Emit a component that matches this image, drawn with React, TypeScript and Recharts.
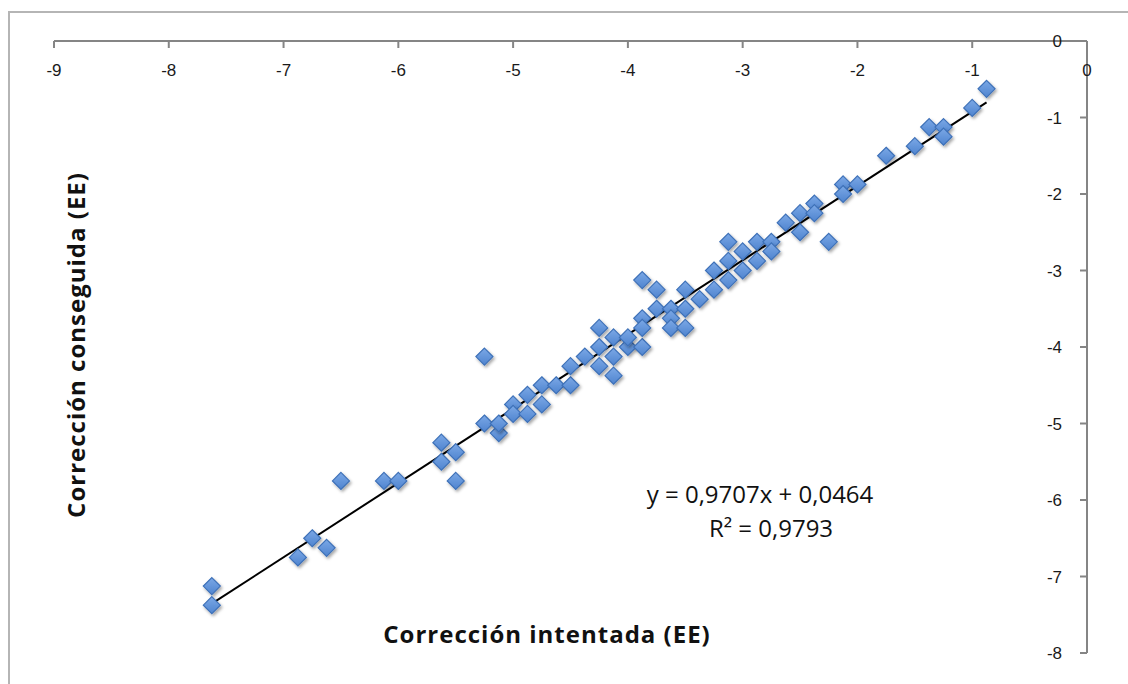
import { ScatterChart, Scatter, XAxis, YAxis, ReferenceLine, Customized } from 'recharts'

// Corrección intentada vs conseguida, en equivalente esférico (EE)
const xIntended = [
  -7.625, -7.625, -6.875, -6.75, -6.625, -6.5, -6.125, -6.0, -5.625, -5.625,
  -5.5, -5.5, -5.25, -5.25, -5.125, -5.125, -5.0, -5.0, -4.875, -4.875,
  -4.75, -4.75, -4.625, -4.5, -4.5, -4.375, -4.25, -4.25, -4.25, -4.125,
  -4.125, -4.125, -4.0, -4.0, -3.875, -3.875, -3.875, -3.875, -3.75, -3.75,
  -3.625, -3.625, -3.625, -3.5, -3.5, -3.5, -3.375, -3.25, -3.25, -3.125,
  -3.125, -3.125, -3.0, -3.0, -2.875, -2.875, -2.75, -2.75, -2.625, -2.5,
  -2.5, -2.375, -2.375, -2.25, -2.125, -2.125, -2.0, -1.75, -1.5, -1.375,
  -1.25, -1.25, -1.0, -0.875,
]
const yAchieved = [
  -7.125, -7.375, -6.75, -6.5, -6.625, -5.75, -5.75, -5.75, -5.25, -5.5,
  -5.375, -5.75, -4.125, -5.0, -5.125, -5.0, -4.75, -4.875, -4.625, -4.875,
  -4.5, -4.75, -4.5, -4.5, -4.25, -4.125, -3.75, -4.0, -4.25, -3.875,
  -4.125, -4.375, -4.0, -3.875, -3.125, -3.625, -4.0, -3.75, -3.25, -3.5,
  -3.5, -3.625, -3.75, -3.25, -3.5, -3.75, -3.375, -3.0, -3.25, -2.625,
  -2.875, -3.125, -2.75, -3.0, -2.625, -2.875, -2.625, -2.75, -2.375, -2.25,
  -2.5, -2.125, -2.25, -2.625, -1.875, -2.0, -1.875, -1.5, -1.375, -1.125,
  -1.125, -1.25, -0.875, -0.625,
]

const xTicks = [-9, -8, -7, -6, -5, -4, -3, -2, -1, 0]
const yTicks = [-8, -7, -6, -5, -4, -3, -2, -1, 0]

// linear fit shown on the chart
const slope = 0.9707
const intercept = 0.0464
const rSquared = 0.9793

const points = xIntended.map((x, i) => ({ x, y: yAchieved[i] }))
const xFirst = Math.min(...xIntended)
const xLast = Math.max(...xIntended)
const trendSegment = [
  { x: xFirst, y: slope * xFirst + intercept },
  { x: xLast, y: slope * xLast + intercept },
]

const comma = (v: number) => v.toFixed(4).replace('.', ',')

const AXIS_GREY = '#858585'
const tickStyle = { fontSize: 17, fill: '#1a1a1a', fontFamily: '"Liberation Sans", Arial, sans-serif' }
const textFont = '"Open Sans", "DejaVu Sans", sans-serif'

function Diamond(props: any) {
  const { cx, cy } = props
  const r = 8.5
  return (
    <polygon
      points={`${cx},${cy - r} ${cx + r},${cy} ${cx},${cy + r} ${cx - r},${cy}`}
      fill="url(#diamondFill)"
      stroke="#3e71b8"
      strokeWidth={1.2}
      filter="url(#diamondShadow)"
    />
  )
}

function Annotations() {
  return (
    <g>
      <defs>
        <linearGradient id="diamondFill" x1="0" y1="0" x2="0" y2="1">
          <stop offset="0%" stopColor="#7ba8e6" />
          <stop offset="100%" stopColor="#4f84cf" />
        </linearGradient>
        <filter id="diamondShadow" x="-50%" y="-50%" width="200%" height="200%">
          <feDropShadow dx="1.5" dy="2" stdDeviation="1.6" floodColor="#000" floodOpacity="0.35" />
        </filter>
      </defs>
      <text x={760} y={503} textAnchor="middle" fontSize={24} fontFamily={textFont} fill="#111">
        {`y = ${comma(slope)}x + ${comma(intercept)}`}
      </text>
      <text x={771} y={537} textAnchor="middle" fontSize={24} fontFamily={textFont} fill="#111">
        {`R² = ${comma(rSquared)}`}
      </text>
      <text
        x={547}
        y={643}
        textAnchor="middle"
        fontSize={24}
        fontWeight={700}
        letterSpacing={1}
        fontFamily={textFont}
        fill="#111"
      >
        Corrección intentada (EE)
      </text>
      <text
        x={0}
        y={0}
        transform="translate(85, 345) rotate(-90)"
        textAnchor="middle"
        fontSize={24}
        fontWeight={700}
        letterSpacing={1}
        fontFamily={textFont}
        fill="#111"
      >
        Corrección conseguida (EE)
      </text>
    </g>
  )
}

export default function App() {
  return (
    <div style={{ position: 'absolute', left: 0, top: 0, width: 1128, height: 684, background: '#fff', overflow: 'hidden' }}>
      <div
        style={{
          position: 'absolute',
          left: 8,
          top: 11,
          width: 1200,
          height: 700,
          borderTop: '2px solid #b5b5b5',
          borderLeft: '2px solid #b5b5b5',
        }}
      />
      <div style={{ position: 'absolute', left: 0, top: 0 }}>
        <ScatterChart width={1128} height={684} margin={{ top: 41, right: 41, bottom: 31, left: 54 }}>
          <XAxis
            type="number"
            dataKey="x"
            orientation="top"
            mirror
            domain={[-9, 0]}
            ticks={xTicks}
            allowDataOverflow
            stroke={AXIS_GREY}
            strokeWidth={2}
            tickSize={7}
            tickMargin={16}
            tick={tickStyle}
          />
          <YAxis
            type="number"
            dataKey="y"
            orientation="right"
            mirror
            domain={[-8, 0]}
            ticks={yTicks}
            allowDataOverflow
            stroke={AXIS_GREY}
            strokeWidth={2}
            tickSize={7}
            tickMargin={18}
            tick={tickStyle}
          />
          <ReferenceLine segment={trendSegment} stroke="#000" strokeWidth={2} />
          <Scatter data={points} shape={<Diamond />} isAnimationActive={false} />
          <Customized component={<Annotations />} />
        </ScatterChart>
      </div>
    </div>
  )
}
